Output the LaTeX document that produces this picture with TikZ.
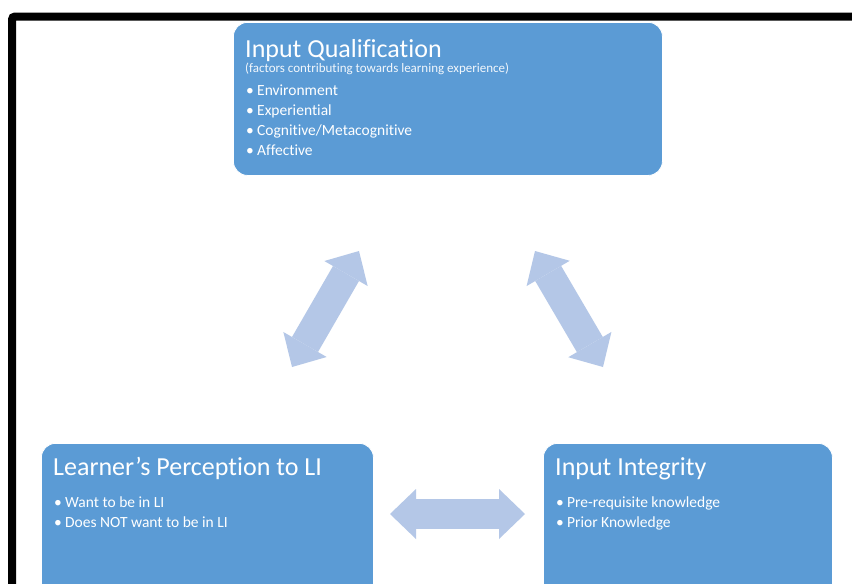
\documentclass[tikz,border=0pt]{standalone}
\usepackage{fontspec}
\setmainfont{Carlito}[Ligatures=CommonOff]
\usetikzlibrary{arrows.meta,calc,positioning}
\definecolor{boxblue}{HTML}{5B9BD5}
\definecolor{arrowblue}{HTML}{B4C7E7}

\tikzset{
  panel/.style={draw=white, line width=0.8pt, fill=boxblue, rounded corners=14pt,
                anchor=north west, inner sep=0pt},
  heading/.style={anchor=base west, inner sep=0pt, text=white,
                  font=\fontsize{26}{30}\selectfont},
  note/.style={anchor=base west, inner sep=0pt, text=white!92!boxblue,
               font=\fontsize{13}{15}\selectfont},
  item/.style={anchor=base west, inner sep=0pt, text=white,
               font=\fontsize{15.5}{18}\selectfont},
  twoway/.style={arrowblue, line width=30pt,
                 {Triangle[length=26pt,width=50pt,line width=0pt]}-{Triangle[length=26pt,width=50pt,line width=0pt]}}
}
\newcommand{\bul}[1]{\makebox[11pt][l]{\textbullet}#1}

\begin{document}
\begin{tikzpicture}[x=1pt, y=-1pt]
  \useasboundingbox (0,0) rectangle (852,584);
  \fill[white] (0,0) rectangle (852,584);
  \clip (0,0) rectangle (852,584);

  % frame
  \draw[line width=8pt, rounded corners=3pt] (12,16.5) rectangle (900,650);

  % the three panels
  \node[panel, minimum width=429pt, minimum height=153pt] (qual) at (233,22) {};
  \node[panel, minimum width=332pt, minimum height=170pt] (perc) at (41,443) {};
  \node[panel, minimum width=289pt, minimum height=170pt] (integ) at (543,443) {};

  \node[heading] (qualhead) at ($(qual.north west)+(12,35)$) {Input Qualification};
  \node[note] (qualnote) at ($(qual.north west)+(12,50)$)
       {(factors contributing towards learning experience)};
  \foreach \txt [count=\i] in {Environment, Experiential, Cognitive/Metacognitive, Affective}
    \node[item] (qual-\i) at ($(qual.north west)+(13,53+20*\i)$) {\bul{\txt}};

  \node[heading] (perchead) at ($(perc.north west)+(12,32)$) {Learner’s Perception to LI};
  \foreach \txt [count=\i] in {Want to be in LI, Does NOT want to be in LI}
    \node[item] (perc-\i) at ($(perc.north west)+(13,44+20*\i)$) {\bul{\txt}};

  \node[heading] (integhead) at ($(integ.north west)+(12,32)$) {Input Integrity};
  \foreach \txt [count=\i] in {Pre-requisite knowledge, Prior Knowledge}
    \node[item] (integ-\i) at ($(integ.north west)+(13,44+20*\i)$) {\bul{\txt}};

  % two-way arrows between the panels
  \coordinate (l1) at (292,367);
  \coordinate (l2) at (359,251);
  \coordinate (r1) at (535,251);
  \coordinate (r2) at (603,367);
  \coordinate (h1) at (390,514);
  \coordinate (h2) at (525,514);
  \draw[twoway] (l1) -- (l2);
  \draw[twoway] (r1) -- (r2);
  \draw[twoway] (h1) -- (h2);
\end{tikzpicture}
\end{document}
